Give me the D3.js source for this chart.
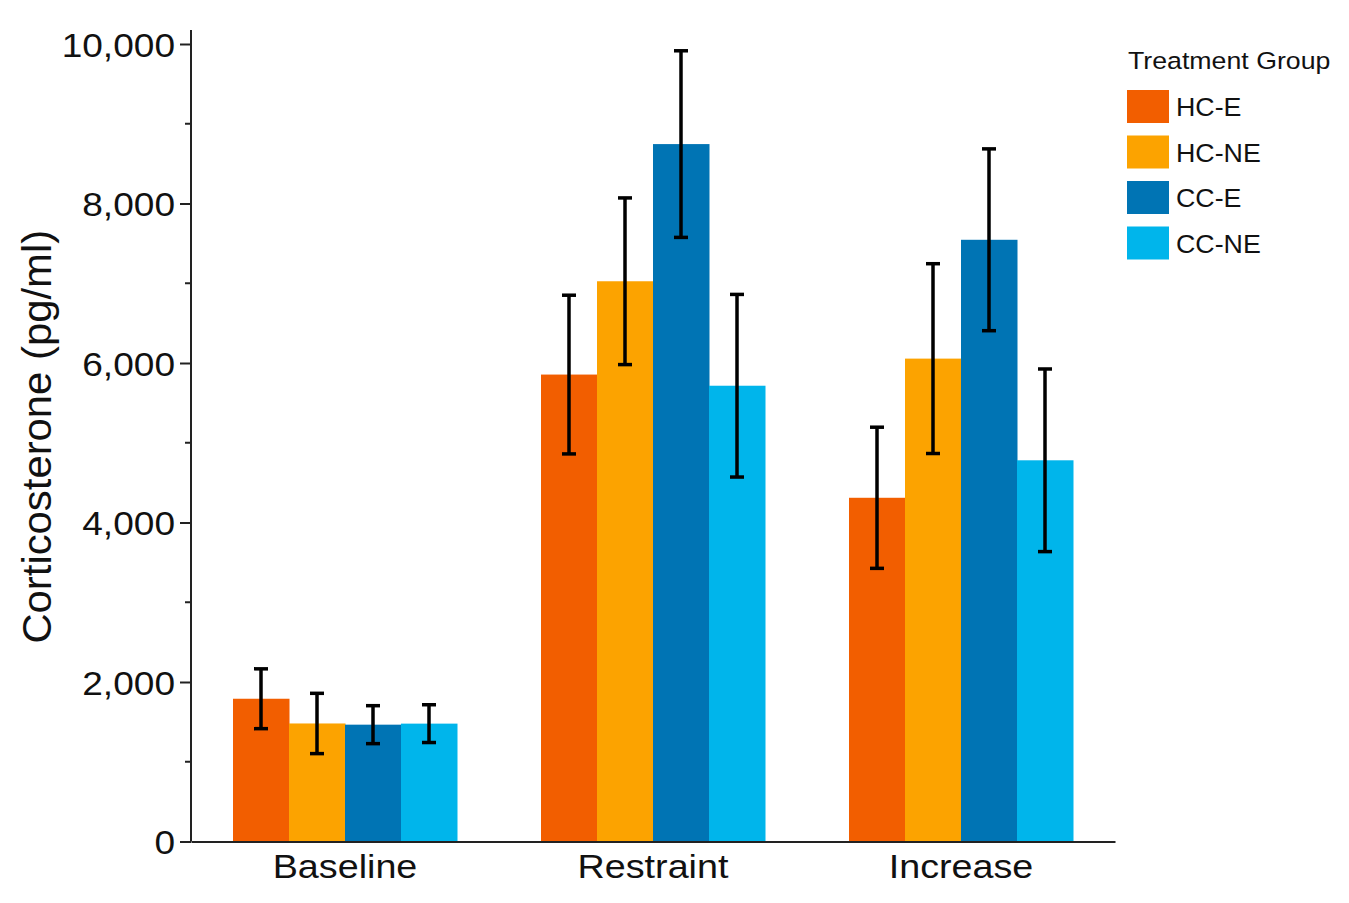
<!DOCTYPE html>
<html>
<head>
<meta charset="utf-8">
<script src="https://cdn.jsdelivr.net/npm/d3@7"></script>
<style>
  html, body { margin: 0; padding: 0; background: #fff; }
  svg { display: block; }
  text { font-family: "Liberation Sans", Arial, Helvetica, sans-serif; fill: #111; }
</style>
</head>
<body>
<svg id="chart" width="1349" height="903"></svg>
<script>
const categories = ["Baseline", "Restraint", "Increase"];
const groups = ["HC-E", "HC-NE", "CC-E", "CC-NE"];
const groupColors = ["#f25e00", "#fca300", "#0074b4", "#00b5eb"];
// mean values per group, one array per category
const baselineValues  = [1790, 1480, 1465, 1478];
const restraintValues = [5855, 7025, 8745, 5715];
const increaseValues  = [4310, 6055, 7545, 4780];
// error (half-range) values
const baselineErrors  = [375, 378, 238, 237];
const restraintErrors = [995, 1045, 1170, 1145];
const increaseErrors  = [885, 1190, 1140, 1145];
const yTicks = [0, 2000, 4000, 6000, 8000, 10000];
const yMinorTicks = [1000, 3000, 5000, 7000, 9000];
const yTitle = "Corticosterone (pg/ml)";
const legendTitle = "Treatment Group";

const valuesByCat = [baselineValues, restraintValues, increaseValues];
const errorsByCat = [baselineErrors, restraintErrors, increaseErrors];
const data = [];
categories.forEach((c, ci) => groups.forEach((g, gi) => {
  data.push({cat: c, group: g, value: valuesByCat[ci][gi], err: errorsByCat[ci][gi], color: groupColors[gi]});
}));

// widen text horizontally to mimic the reference typeface
function stretch(sel, sx) {
  sel.each(function() {
    const len = this.getComputedTextLength();
    d3.select(this).attr("textLength", len * sx).attr("lengthAdjust", "spacingAndGlyphs");
  });
}

const svg = d3.select("#chart");
const margin = {left: 191, right: 234, top: 44, bottom: 61};
const W = 1349, H = 903;

const x0 = d3.scaleBand().domain(categories).range([margin.left, W - margin.right]).paddingInner(0).paddingOuter(0);
const x1 = d3.scaleBand().domain(groups).range([0, x0.bandwidth()]).paddingInner(0).paddingOuter(0.75);
const y = d3.scaleLinear().domain([0, 10000]).range([H - margin.bottom - 0.5, margin.top]);

// bars
svg.append("g").selectAll("rect").data(data).join("rect")
  .attr("x", d => x0(d.cat) + x1(d.group))
  .attr("width", x1.bandwidth() + 0.5)
  .attr("y", d => y(d.value))
  .attr("height", d => y(0) - y(d.value))
  .attr("fill", d => d.color);

// error bars
const eb = svg.append("g").attr("stroke", "#000").attr("stroke-width", 3.5);
const cx = d => x0(d.cat) + x1(d.group) + x1.bandwidth() / 2;
eb.selectAll("line.v").data(data).join("line").attr("class", "v")
  .attr("x1", cx).attr("x2", cx)
  .attr("y1", d => y(d.value + d.err)).attr("y2", d => y(d.value - d.err));
eb.selectAll("line.t").data(data).join("line").attr("class", "t")
  .attr("x1", d => cx(d) - 7).attr("x2", d => cx(d) + 7)
  .attr("y1", d => y(d.value + d.err)).attr("y2", d => y(d.value + d.err));
eb.selectAll("line.b").data(data).join("line").attr("class", "b")
  .attr("x1", d => cx(d) - 7).attr("x2", d => cx(d) + 7)
  .attr("y1", d => y(d.value - d.err)).attr("y2", d => y(d.value - d.err));

// y axis
const yAxis = d3.axisLeft(y).tickValues(yTicks).tickSize(11).tickPadding(5)
  .tickFormat(d3.format(","));
const gy = svg.append("g").attr("transform", `translate(${margin.left},0)`).call(yAxis);
gy.select(".domain").remove();
gy.selectAll(".tick line").attr("stroke", "#222").attr("stroke-width", 2);
gy.selectAll(".tick text").style("font-size", "34px").attr("dy", "0.36em").style("fill", "#111")
  .call(stretch, 1.09);
gy.append("g").selectAll("line").data(yMinorTicks).join("line")
  .attr("x1", -6).attr("x2", 0).attr("y1", d => y(d)).attr("y2", d => y(d))
  .attr("stroke", "#222").attr("stroke-width", 2);
gy.append("line").attr("x1", 0).attr("x2", 0)
  .attr("y1", y(0)).attr("y2", y(10000) - 14)
  .attr("stroke", "#222").attr("stroke-width", 2);

// x axis
const xAxis = d3.axisBottom(x0).tickSize(0).tickPadding(13);
const gx = svg.append("g").attr("transform", `translate(0,${y(0)})`).call(xAxis);
gx.select(".domain").attr("stroke", "#222").attr("stroke-width", 2);
gx.selectAll(".tick text").style("font-size", "32.5px").style("fill", "#111")
  .call(stretch, 1.16);

// y title
svg.append("text")
  .attr("transform", `translate(51,${(y(0) + y(10000)) / 2 - 6}) rotate(-90)`)
  .attr("text-anchor", "middle")
  .style("font-size", "41px")
  .text(yTitle)
  .call(stretch, 1.02);

// legend
const lg = svg.append("g").attr("transform", "translate(1127,0)");
lg.append("text").attr("x", 1).attr("y", 69).style("font-size", "24.5px").text(legendTitle)
  .call(stretch, 1.09);
const li = lg.selectAll("g.item").data(groups).join("g").attr("class", "item")
  .attr("transform", (d, i) => `translate(0,${90 + i * 45.5})`);
li.append("rect").attr("width", 42).attr("height", 33).attr("fill", (d, i) => groupColors[i]);
li.append("text").attr("x", 49).attr("y", 26).style("font-size", "26px").text(d => d)
  .call(stretch, 1.03);
</script>
</body>
</html>
